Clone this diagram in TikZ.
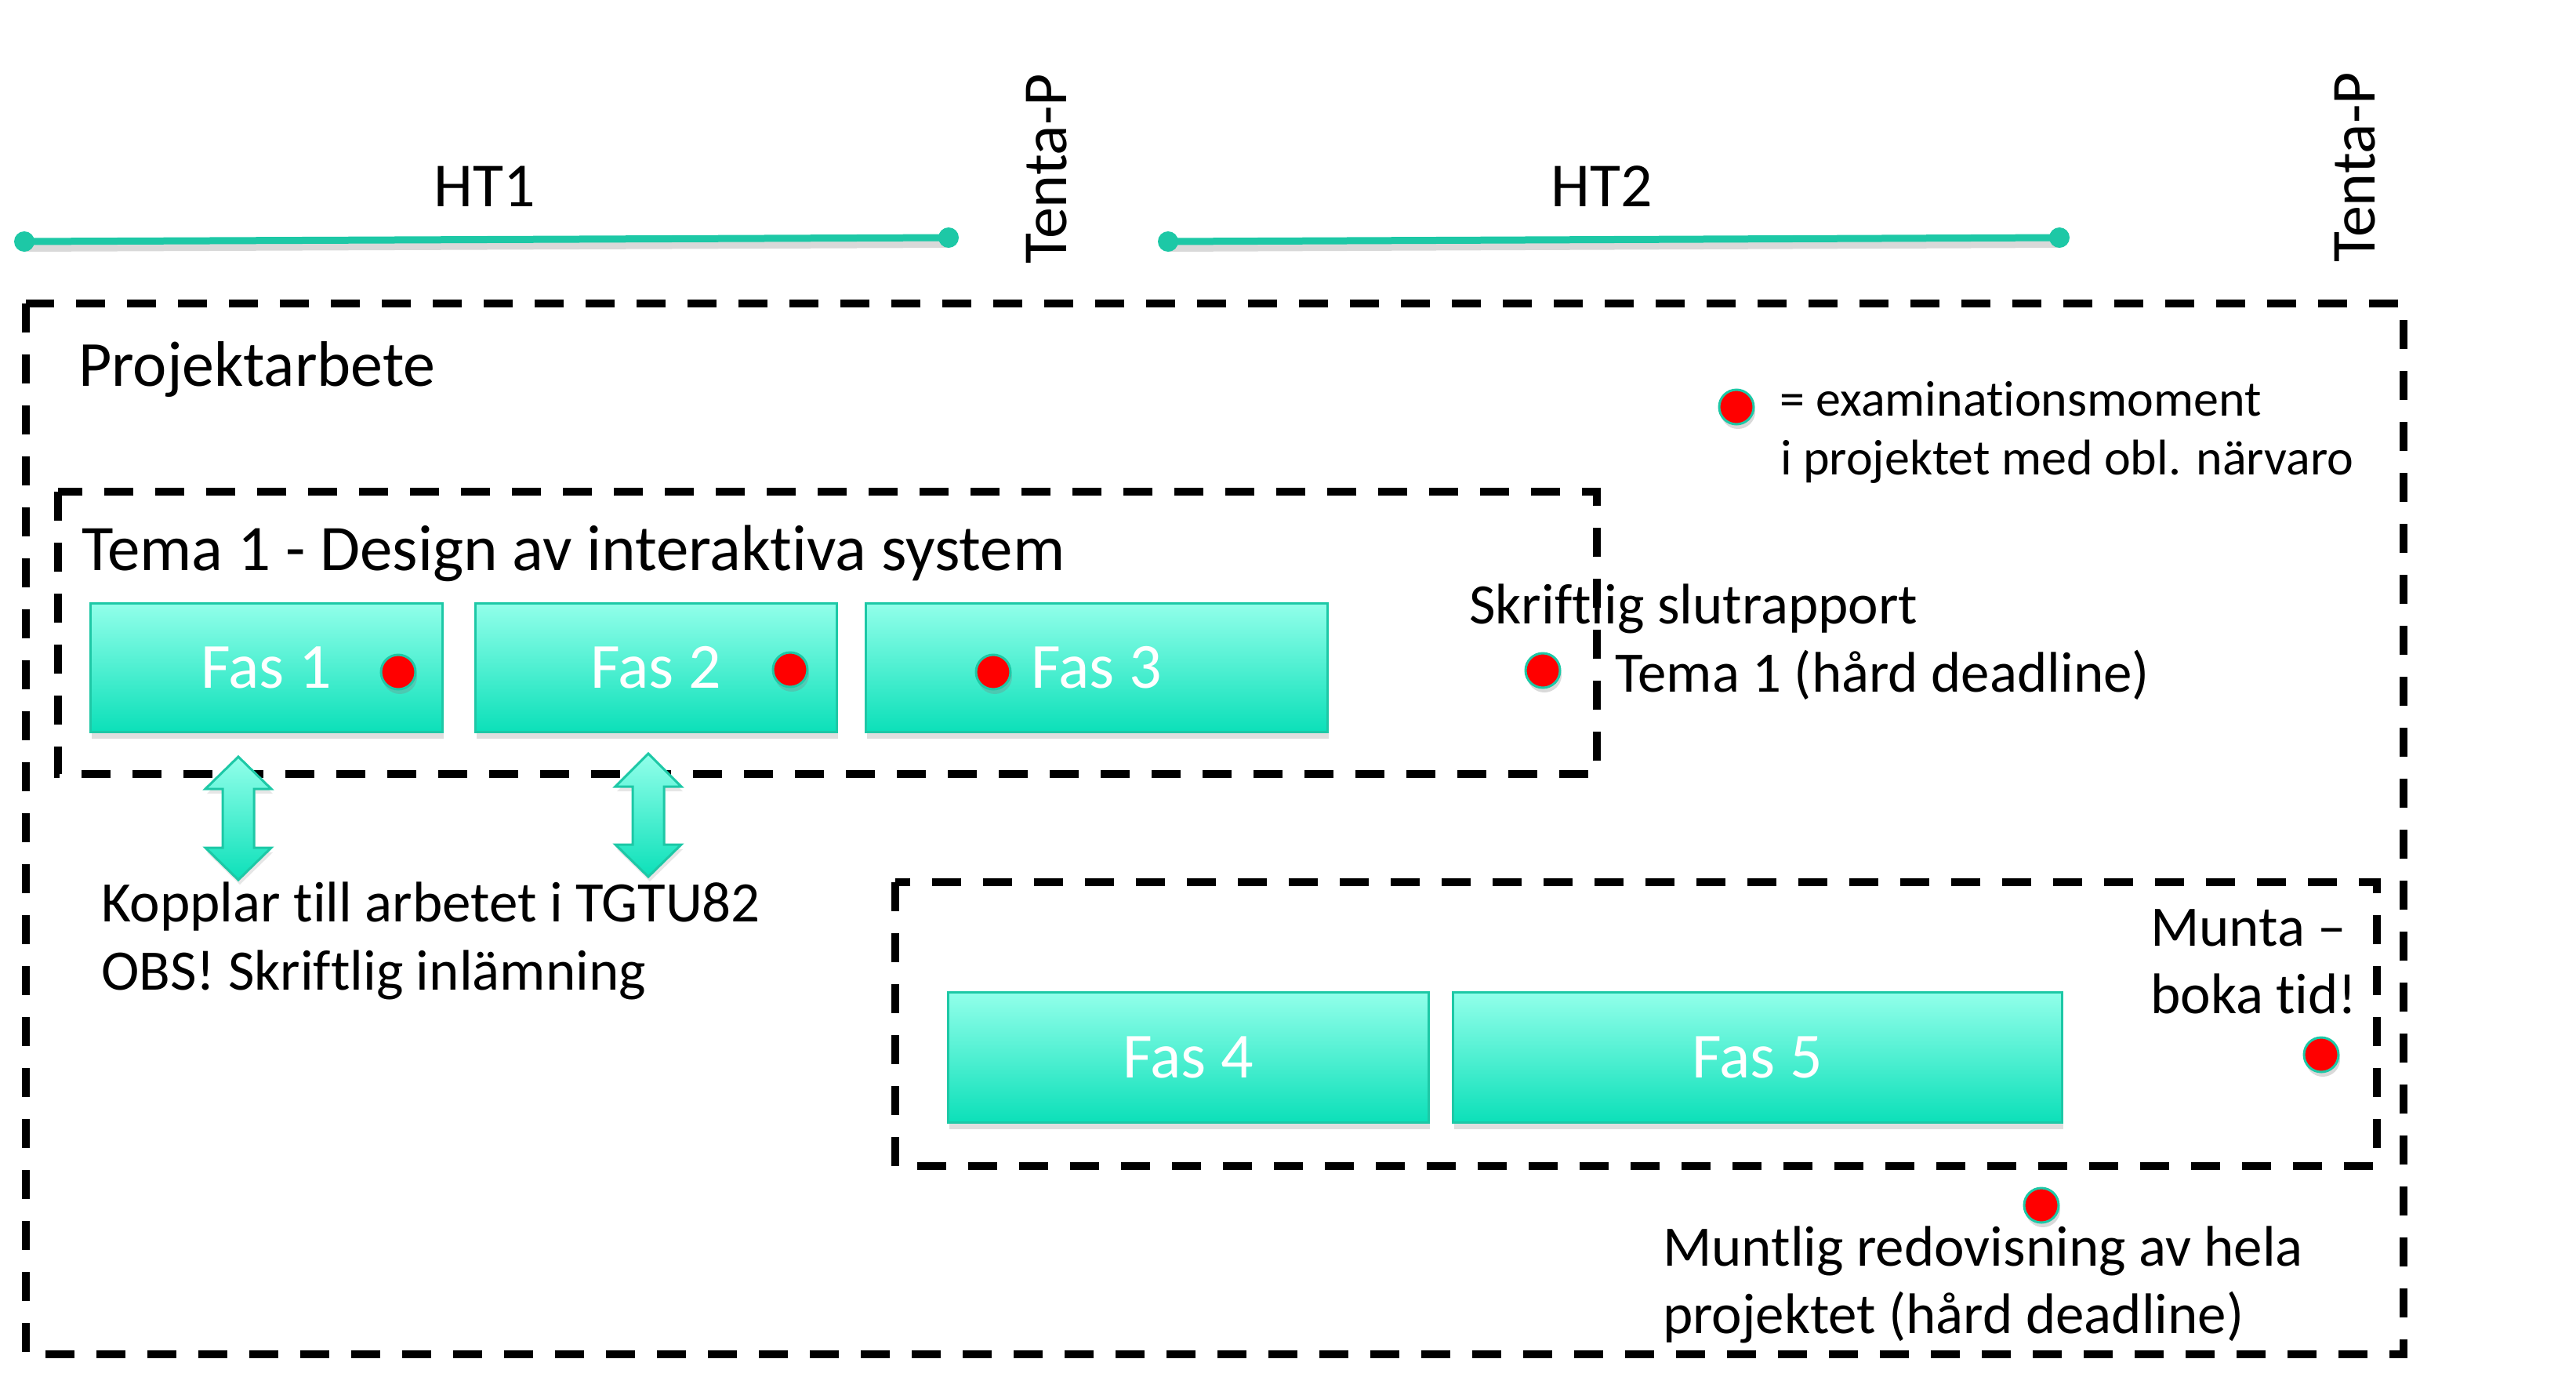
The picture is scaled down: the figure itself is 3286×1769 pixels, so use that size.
\documentclass[tikz,border=0pt]{standalone}
\usepackage{fontspec}
\setmainfont{Carlito}[Ligatures={TeX,NoCommon}]
\usetikzlibrary{shadows}
\definecolor{teal1}{RGB}{29,200,166}
\definecolor{fastop}{RGB}{146,255,234}
\definecolor{fasbot}{RGB}{12,224,185}
\tikzset{
 dashbox/.style={draw=black, line width=10pt, dash pattern=on 37pt off 28pt},
 fasbox/.style={draw=teal1, line width=3pt, top color=fastop, bottom color=fasbot,
   drop shadow={shadow xshift=2pt, shadow yshift=-9pt, opacity=0.25},
   text=white, font=\fontsize{82}{98}\selectfont, inner sep=0pt},
 exdot/.style={circle, minimum size=44pt, inner sep=0pt, fill=red, draw=teal1, line width=3pt,
   drop shadow={shadow xshift=2pt, shadow yshift=-6pt, opacity=0.3}},
 bigtxt/.style={font=\fontsize{82}{98}\selectfont, inner sep=0pt, anchor=base west},
 midtxt/.style={font=\fontsize{73}{87}\selectfont, inner sep=0pt, anchor=base west},
 smalltxt/.style={font=\fontsize{64}{67}\selectfont, inner sep=0pt, anchor=base west},
 httxt/.style={font=\fontsize{80}{96}\selectfont, inner sep=0pt, anchor=base},
 tentatxt/.style={font=\fontsize{80}{96}\selectfont, inner sep=0pt, anchor=base west, rotate=90},
 tlline/.style={draw=teal1, line width=9pt},
 tlshadow/.style={draw=black, opacity=0.15, line width=10pt},
 tlend/.style={circle, fill=teal1, minimum size=26pt, inner sep=0pt},
 dblarrow/.style={draw=teal1, line width=3pt, top color=fastop, bottom color=fasbot, line join=miter,
   drop shadow={shadow xshift=2pt, shadow yshift=-6pt, opacity=0.2}},
}
\begin{document}
\begin{tikzpicture}[x=1pt,y=-1pt]
\useasboundingbox (0,0) rectangle (3286,1769);

% timeline
\coordinate (ht1a) at (31,308);
\coordinate (ht1b) at (1210,303);
\coordinate (ht2a) at (1490,308);
\coordinate (ht2b) at (2627,303);
\draw[tlshadow] ([yshift=-8pt]ht1a) -- ([yshift=-8pt]ht1b);
\draw[tlshadow] ([yshift=-8pt]ht2a) -- ([yshift=-8pt]ht2b);
\draw[tlline] (ht1a) -- (ht1b);
\draw[tlline] (ht2a) -- (ht2b);
\node[tlend] (e1) at (ht1a) {};
\node[tlend] (e2) at (ht1b) {};
\node[tlend] (e3) at (ht2a) {};
\node[tlend] (e4) at (ht2b) {};
\node[httxt] (ht1) at (618,263) {HT1};
\node[httxt] (ht2) at (2043,263) {HT2};
\node[tentatxt] (tenta1) at (1360,337) {Tenta-P};
\node[tentatxt] (tenta2) at (3029,335) {Tenta-P};

% dashed frames
\draw[dashbox] (33,387) rectangle (3066,1727);
\draw[dashbox] (74,627) rectangle (2037,987);
\draw[dashbox] (1142,1125) rectangle (3032,1487);

% texts
\node[bigtxt] (proj) at (100,492) {Projektarbete};
\node[bigtxt, font=\fontsize{83}{98}\selectfont] (tema) at (104,727) {Tema 1 - Design av interaktiva system};
\node[smalltxt] (leg1) at (2270,530) {= examinationsmoment};
\node[smalltxt] (leg2) at (2271,605) {i projektet med obl. närvaro};
\node[midtxt] (skr1) at (1874,795) {Skriftlig slutrapport};
\node[midtxt] (skr2) at (2060,882) {Tema 1 (hård deadline)};
\node[midtxt] (kop1) at (129,1175) {Kopplar till arbetet i TGTU82};
\node[midtxt] (kop2) at (129,1262) {OBS! Skriftlig inlämning};
\node[midtxt] (mun1) at (2743,1206) {Munta –};
\node[midtxt] (mun2) at (2743,1292) {boka tid!};
\node[midtxt] (mtl1) at (2121,1614) {Muntlig redovisning av hela};
\node[midtxt] (mtl2) at (2121,1700) {projektet (hård deadline)};

% phase boxes
\node[fasbox, minimum width=449pt, minimum height=164pt] (fas1) at (339.5,851) {Fas 1};
\node[fasbox, minimum width=461pt, minimum height=164pt] (fas2) at (836.5,851) {Fas 2};
\node[fasbox, minimum width=589pt, minimum height=164pt] (fas3) at (1398.5,851) {Fas 3};
\node[fasbox, minimum width=613pt, minimum height=166pt] (fas4) at (1515.5,1348) {Fas 4};
\node[fasbox, minimum width=777pt, minimum height=166pt] (fas5) at (2241.5,1348) {Fas 5};

% double arrows
\path[dblarrow] (304,965) -- (346,1006) -- (324,1006) -- (324,1081) -- (346,1081) -- (304,1122)
  -- (262,1081) -- (284,1081) -- (284,1006) -- (262,1006) -- cycle;
\path[dblarrow] (827,961) -- (869,1003) -- (847,1003) -- (847,1077) -- (869,1077) -- (827,1118)
  -- (785,1077) -- (807,1077) -- (807,1003) -- (785,1003) -- cycle;

% examination dots
\node[exdot] (d1) at (508,857) {};
\node[exdot] (d2) at (1008,854) {};
\node[exdot] (d3) at (1267,857) {};
\node[exdot] (d4) at (1968,855) {};
\node[exdot] (dleg) at (2215,519) {};
\node[exdot] (d5) at (2961,1345) {};
\node[exdot] (d6) at (2604,1537) {};
\end{tikzpicture}
\end{document}
